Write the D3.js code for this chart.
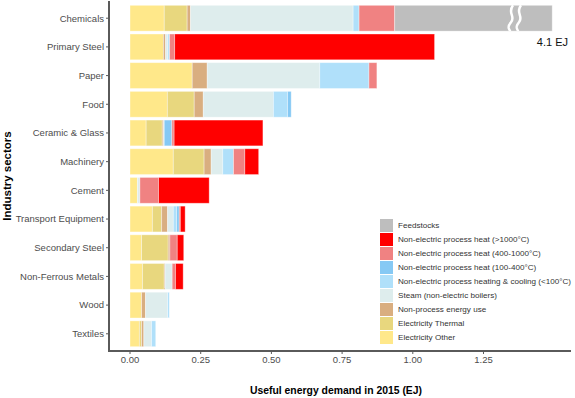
<!DOCTYPE html>
<html>
<head>
<meta charset="utf-8">
<script src="https://cdn.jsdelivr.net/npm/d3@7"></script>
<style>
  body { margin: 0; background: #fff; }
  svg { display: block; font-family: "Liberation Sans", Arial, sans-serif; }
</style>
</head>
<body>
<div id="chart"></div>
<script>
// Sectors, top to bottom
var categories = ["Chemicals", "Primary Steel", "Paper", "Food", "Ceramic & Glass", "Machinery",
    "Cement", "Transport Equipment", "Secondary Steel", "Non-Ferrous Metals", "Wood", "Textiles"];

// Useful energy demand in 2015 (EJ), one array per end use
var elecOther   = [0.121, 0.118, 0.220, 0.132, 0.057, 0.153, 0.026, 0.079, 0.041, 0.044, 0.041, 0.033];
var elecThermal = [0.081, 0,     0,     0.095, 0.057, 0.109, 0,     0.033, 0.094, 0.077, 0,     0.008];
var nonProcess  = [0.012, 0.008, 0.053, 0.032, 0.005, 0.025, 0,     0.021, 0.006, 0.003, 0.014, 0.008];
var steam       = [0.575, 0.008, 0.398, 0.248, 0.002, 0.041, 0.009, 0.020, 0,     0.025, 0.078, 0.027];
var heatCool    = [0.021, 0.006, 0.174, 0.050, 0,     0.038, 0,     0.012, 0,     0,     0.006, 0.015];
var heat100     = [0,     0,     0,     0.013, 0.027, 0,     0,     0.009, 0,     0,     0,     0];
var heat400     = [0.126, 0.018, 0.028, 0,     0.008, 0.040, 0.066, 0.004, 0.026, 0.012, 0,     0];
var heat1000    = [0,     0.919, 0,     0,     0.314, 0.049, 0.179, 0.017, 0.023, 0.027, 0,     0];
var feedstocks  = [4.1,   0,     0,     0,     0,     0,     0,     0,     0,     0,     0,     0];

// the chemicals bar is cut off here (axis break)
var breakAt = 1.493;

var xTicks = [0, 0.25, 0.5, 0.75, 1.0, 1.25];

// stacking order left to right
var series = [
    { key: "Electricity Other", values: elecOther, colour: "#FFE88A" },
    { key: "Electricity Thermal", values: elecThermal, colour: "#E8D77E" },
    { key: "Non-process energy use", values: nonProcess, colour: "#D9AE80" },
    { key: "Steam (non-electric boilers)", values: steam, colour: "#DEEDED" },
    { key: "Non-electric process heating & cooling (<100°C)", values: heatCool, colour: "#B0E0FA" },
    { key: "Non-electric process heat (100-400°C)", values: heat100, colour: "#86C9F4" },
    { key: "Non-electric process heat (400-1000°C)", values: heat400, colour: "#F08282" },
    { key: "Non-electric process heat (>1000°C)", values: heat1000, colour: "#FF0000" },
    { key: "Feedstocks", values: feedstocks, colour: "#BEBEBE" }
];

var width = 575, height = 398;
var panel = { left: 109, right: 573, top: 1, bottom: 351 };

var svg = d3.select("#chart")
    .append("svg")
    .attr("width", width)
    .attr("height", height);

var x = d3.scaleLinear()
    .domain([-0.0743, 1.5665])
    .range([panel.left, panel.right]);

var y = d3.scalePoint()
    .domain(categories)
    .range([panel.top, panel.bottom])
    .padding(0.6);

var barH = y.step() * 0.9;

// build stacked rows
var table = categories.map(function (c, i) {
    var row = { sector: c };
    series.forEach(function (s) { row[s.key] = s.values[i]; });
    return row;
});
var stacked = d3.stack().keys(series.map(function (s) { return s.key; }))(table);

var g = svg.append("g");
stacked.forEach(function (layer, li) {
    g.selectAll(null)
        .data(layer.filter(function (d) { return d[1] - d[0] > 0; }))
        .enter()
        .append("rect")
        .attr("x", function (d) { return x(d[0]); })
        .attr("y", function (d) { return y(d.data.sector) - barH / 2; })
        .attr("width", function (d) { return x(Math.min(d[1], breakAt)) - x(d[0]); })
        .attr("height", barH)
        .attr("fill", series[li].colour)
        .attr("stroke", "#fff")
        .attr("stroke-opacity", 0.45)
        .attr("stroke-width", 0.8);
});

// axis break marks on the chemicals bar
var cy = y("Chemicals");
[511, 519].forEach(function (bx) {
    var top = cy - barH / 2, bot = cy + barH / 2;
    svg.append("path")
        .attr("d", "M" + (bx + 2) + "," + top +
            " C" + (bx - 4) + "," + (top + 8) + " " + (bx + 5) + "," + (cy - 2) + " " + bx + "," + (cy + 4) +
            " S" + (bx - 1) + "," + (bot - 2) + " " + (bx - 1) + "," + bot)
        .attr("fill", "none")
        .attr("stroke", "#fff")
        .attr("stroke-width", 2.5);
});

svg.append("text")
    .attr("x", 568)
    .attr("y", y("Primary Steel") - 1)
    .attr("text-anchor", "end")
    .attr("font-size", 11)
    .attr("fill", "#111")
    .text(feedstocks[0] + " EJ");

// axes
var axisCol = "#5a5a5a", labCol = "#4d4d4d";

svg.append("line")
    .attr("x1", panel.left).attr("x2", panel.left)
    .attr("y1", panel.top).attr("y2", panel.bottom)
    .attr("stroke", axisCol).attr("stroke-width", 2);
svg.append("line")
    .attr("x1", panel.left - 1).attr("x2", 571)
    .attr("y1", panel.bottom).attr("y2", panel.bottom)
    .attr("stroke", axisCol).attr("stroke-width", 2);

categories.forEach(function (c) {
    svg.append("line")
        .attr("x1", panel.left - 3).attr("x2", panel.left)
        .attr("y1", y(c)).attr("y2", y(c))
        .attr("stroke", axisCol).attr("stroke-width", 1);
    svg.append("text")
        .attr("x", panel.left - 5)
        .attr("y", y(c))
        .attr("dy", "0.35em")
        .attr("text-anchor", "end")
        .attr("font-size", 9.5)
        .attr("fill", labCol)
        .text(c);
});

xTicks.forEach(function (t) {
    svg.append("line")
        .attr("x1", x(t)).attr("x2", x(t))
        .attr("y1", panel.bottom).attr("y2", panel.bottom + 3)
        .attr("stroke", axisCol).attr("stroke-width", 1);
    svg.append("text")
        .attr("x", x(t))
        .attr("y", panel.bottom + 12)
        .attr("text-anchor", "middle")
        .attr("font-size", 9.5)
        .attr("fill", labCol)
        .text(d3.format(".2f")(t));
});

svg.append("text")
    .attr("x", 336)
    .attr("y", 394)
    .attr("text-anchor", "middle")
    .attr("font-size", 10.4)
    .attr("font-weight", "bold")
    .attr("fill", "#000")
    .text("Useful energy demand in 2015 (EJ)");

svg.append("text")
    .attr("transform", "translate(11," + ((panel.top + panel.bottom) / 2) + ") rotate(-90)")
    .attr("text-anchor", "middle")
    .attr("font-size", 11.5)
    .attr("font-weight", "bold")
    .attr("fill", "#000")
    .text("Industry sectors");

// legend
var legend = svg.append("g").attr("transform", "translate(380,219)");
series.slice().reverse().forEach(function (s, i) {
    legend.append("rect")
        .attr("x", 0).attr("y", i * 14)
        .attr("width", 13).attr("height", 13)
        .attr("fill", s.colour);
    legend.append("text")
        .attr("x", 18).attr("y", i * 14 + 6.5)
        .attr("dy", "0.35em")
        .attr("font-size", 8.1)
        .attr("fill", "#333")
        .text(s.key);
});
</script>
</body>
</html>
